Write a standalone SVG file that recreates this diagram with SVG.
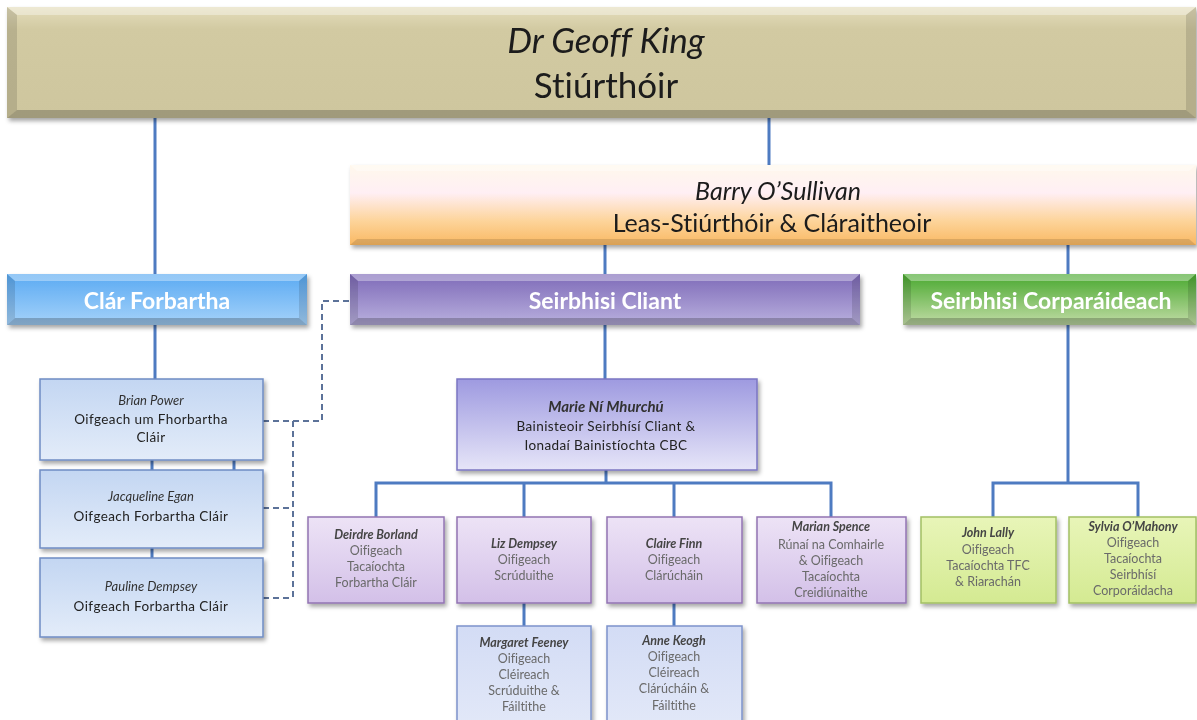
<svg xmlns="http://www.w3.org/2000/svg" width="1197" height="720" viewBox="0 0 1197 720">
<defs>
<filter id="sh" x="-5%" y="-10%" width="115%" height="130%"><feDropShadow dx="2" dy="3" stdDeviation="2" flood-color="#000" flood-opacity="0.35"/></filter>
<linearGradient id="gTop" x1="0" y1="0" x2="0" y2="1"><stop offset="0" stop-color="#E4DDBC"/><stop offset="0.2" stop-color="#D2CAA2"/><stop offset="1" stop-color="#CEC69E"/></linearGradient>
<linearGradient id="gBarry" x1="0" y1="0" x2="0" y2="1"><stop offset="0" stop-color="#FFF8EC"/><stop offset="0.35" stop-color="#FFEFF4"/><stop offset="0.7" stop-color="#FDD49A"/><stop offset="1" stop-color="#F9B862"/></linearGradient>
<linearGradient id="gClar" x1="0" y1="0" x2="0" y2="1"><stop offset="0" stop-color="#5AAAF2"/><stop offset="1" stop-color="#A5D2FA"/></linearGradient>
<linearGradient id="gCliant" x1="0" y1="0" x2="0" y2="1"><stop offset="0" stop-color="#7E6AB8"/><stop offset="1" stop-color="#B9B0DE"/></linearGradient>
<linearGradient id="gCorp" x1="0" y1="0" x2="0" y2="1"><stop offset="0" stop-color="#48A82E"/><stop offset="1" stop-color="#C2DCA6"/></linearGradient>
<linearGradient id="gBlue" x1="0" y1="0" x2="0" y2="1"><stop offset="0" stop-color="#C3D6F2"/><stop offset="1" stop-color="#E3ECF9"/></linearGradient>
<linearGradient id="gMarie" x1="0" y1="0" x2="0" y2="1"><stop offset="0" stop-color="#9E9AE0"/><stop offset="1" stop-color="#E6E5F8"/></linearGradient>
<linearGradient id="gPurp" x1="0" y1="0" x2="0" y2="1"><stop offset="0" stop-color="#EDE3F6"/><stop offset="1" stop-color="#D3C0E8"/></linearGradient>
<linearGradient id="gGreen" x1="0" y1="0" x2="0" y2="1"><stop offset="0" stop-color="#E8F5B8"/><stop offset="1" stop-color="#D4EA92"/></linearGradient>
<linearGradient id="gLb" x1="0" y1="0" x2="0" y2="1"><stop offset="0" stop-color="#D3DCF5"/><stop offset="1" stop-color="#E2E8F8"/></linearGradient>
</defs>
<style>
text{font-family:Lato,"Liberation Sans",sans-serif;text-anchor:middle;font-variant-ligatures:none}
.h{font-size:35px;fill:#1a1a1a}
.b{font-size:25px;fill:#1a1a1a}
.hd{font-size:23px;font-weight:bold;fill:#fff}
.n{font-size:12.5px;font-style:italic;font-weight:bold;fill:#444}
.r{font-size:12.5px;fill:#6a6a6a}
.nb{font-size:13px;font-style:italic;fill:#333}
.rb{font-size:13.5px;fill:#222;letter-spacing:0.4px}
.conn{fill:none;stroke:#4E7BC1;stroke-width:3}
.dash{fill:none;stroke:#5C7299;stroke-width:2;stroke-dasharray:6 4}
.hi{fill:#fff;opacity:0.35}
.dk{fill:#000;opacity:0.12}
.dk2{fill:#000;opacity:0.22}
</style>
<g id="connectors">
<path class="conn" d="M155,118V274M155,325V379M152,460V470M234,460V470M152,548V558M769,118V165M605,245V274M1068,245V274M605,325V379M606,470V483M376,517V483H831V517M524,483V517M674,483V517M524,603V626M674,603V626M1068,325V483M993,517V483H1138V517"/>
<path class="dash" d="M263,421H322V301H350M263,508H293M263,598H293M293,421V598"/>
</g>
<g id="stiurthoir" filter="url(#sh)">
<rect x="7" y="7" width="1189" height="111" fill="url(#gTop)"/>
<polygon class="hi" points="7,7 1196,7 1186,15 17,15"/>
<polygon class="dk" points="7,7 17,15 17,110 7,118"/>
<polygon class="dk" points="1196,7 1186,15 1186,110 1196,118"/>
<polygon class="dk2" points="7,118 17,110 1186,110 1196,118"/>
<text class="h" x="606" y="53" font-style="italic">Dr Geoff King</text>
<text class="h" x="606" y="98">Stiúrthóir</text>
</g>
<g id="barry" filter="url(#sh)">
<rect x="350" y="165" width="846" height="80" fill="url(#gBarry)"/>
<polygon class="hi" points="350,165 1196,165 1189,171 357,171"/>
<polygon class="dk" points="350,245 357,239 1189,239 1196,245"/>
<text class="b" x="778" y="200" font-style="italic">Barry O’Sullivan</text>
<text class="b" x="772" y="232">Leas-Stiúrthóir &amp; Cláraitheoir</text>
</g>
<g id="clar-forbartha" filter="url(#sh)">
<rect x="7" y="274" width="300" height="51" fill="url(#gClar)"/>
<polygon class="hi" points="7,274 307,274 299,281 15,281"/>
<polygon class="dk" points="7,274 15,281 15,318 7,325"/>
<polygon class="dk" points="307,274 299,281 299,318 307,325"/>
<polygon class="dk2" points="7,325 15,318 299,318 307,325"/>
<text class="hd" x="157" y="309">Clár Forbartha</text>
</g>
<g id="seirbhisi-cliant" filter="url(#sh)">
<rect x="350" y="274" width="510" height="51" fill="url(#gCliant)"/>
<polygon class="hi" points="350,274 860,274 852,281 358,281"/>
<polygon class="dk" points="350,274 358,281 358,318 350,325"/>
<polygon class="dk" points="860,274 852,281 852,318 860,325"/>
<polygon class="dk2" points="350,325 358,318 852,318 860,325"/>
<text class="hd" x="605" y="309">Seirbhisi Cliant</text>
</g>
<g id="seirbhisi-corparaideach" filter="url(#sh)">
<rect x="903" y="274" width="293" height="51" fill="url(#gCorp)"/>
<polygon class="hi" points="903,274 1196,274 1188,281 911,281"/>
<polygon class="dk" points="903,274 911,281 911,318 903,325"/>
<polygon class="dk" points="1196,274 1188,281 1188,318 1196,325"/>
<polygon class="dk2" points="903,325 911,318 1188,318 1196,325"/>
<text class="hd" x="1051" y="309">Seirbhisi Corparáideach</text>
</g>
<g id="brian" filter="url(#sh)">
<rect x="40" y="379" width="223" height="81" fill="url(#gBlue)" stroke="#6F8CC3" stroke-width="1.5"/>
<text class="nb" x="151" y="405">Brian Power</text>
<text class="rb" x="151" y="424">Oifgeach um Fhorbartha</text>
<text class="rb" x="151" y="442">Cláir</text>
</g>
<g id="jacqueline" filter="url(#sh)">
<rect x="40" y="470" width="223" height="78" fill="url(#gBlue)" stroke="#6F8CC3" stroke-width="1.5"/>
<text class="nb" x="151" y="501">Jacqueline Egan</text>
<text class="rb" x="151" y="521">Oifgeach Forbartha Cláir</text>
</g>
<g id="pauline" filter="url(#sh)">
<rect x="40" y="558" width="223" height="79" fill="url(#gBlue)" stroke="#6F8CC3" stroke-width="1.5"/>
<text class="nb" x="151" y="591">Pauline Dempsey</text>
<text class="rb" x="151" y="611">Oifgeach Forbartha Cláir</text>
</g>
<g id="marie" filter="url(#sh)">
<rect x="457" y="379" width="300" height="91" fill="url(#gMarie)" stroke="#7B76C2" stroke-width="1.5"/>
<text x="606" y="412" style="font-size:15px;font-style:italic;font-weight:bold;fill:#333">Marie Ní Mhurchú</text>
<text class="rb" x="606" y="431">Bainisteoir Seirbhísí Cliant &amp;</text>
<text class="rb" x="606" y="450">Ionadaí Bainistíochta CBC</text>
</g>
<g id="deirdre" filter="url(#sh)">
<rect x="308" y="517" width="136" height="86" fill="url(#gPurp)" stroke="#9274B3" stroke-width="1.5"/>
<text class="n" x="376" y="539">Deirdre Borland</text>
<text class="r" x="376" y="555">Oifigeach</text>
<text class="r" x="376" y="571">Tacaíochta</text>
<text class="r" x="376" y="587">Forbartha Cláir</text>
</g>
<g id="liz" filter="url(#sh)">
<rect x="457" y="517" width="134" height="86" fill="url(#gPurp)" stroke="#9274B3" stroke-width="1.5"/>
<text class="n" x="524" y="548">Liz Dempsey</text>
<text class="r" x="524" y="564">Oifigeach</text>
<text class="r" x="524" y="580">Scrúduithe</text>
</g>
<g id="claire" filter="url(#sh)">
<rect x="607" y="517" width="135" height="86" fill="url(#gPurp)" stroke="#9274B3" stroke-width="1.5"/>
<text class="n" x="674" y="548">Claire Finn</text>
<text class="r" x="674" y="564">Oifigeach</text>
<text class="r" x="674" y="580">Clárúcháin</text>
</g>
<g id="marian" filter="url(#sh)">
<rect x="757" y="517" width="149" height="86" fill="url(#gPurp)" stroke="#9274B3" stroke-width="1.5"/>
<text class="n" x="831" y="531">Marian Spence</text>
<text class="r" x="831" y="549">Rúnaí na Comhairle</text>
<text class="r" x="831" y="565">&amp; Oifigeach</text>
<text class="r" x="831" y="581">Tacaíochta</text>
<text class="r" x="831" y="597">Creidiúnaithe</text>
</g>
<g id="john" filter="url(#sh)">
<rect x="921" y="517" width="135" height="86" fill="url(#gGreen)" stroke="#A3C064" stroke-width="1.5"/>
<text class="n" x="988" y="537">John Lally</text>
<text class="r" x="988" y="554">Oifigeach</text>
<text class="r" x="988" y="570">Tacaíochta  TFC</text>
<text class="r" x="988" y="586">&amp; Riarachán</text>
</g>
<g id="sylvia" filter="url(#sh)">
<rect x="1069" y="517" width="127" height="86" fill="url(#gGreen)" stroke="#A3C064" stroke-width="1.5"/>
<text class="n" x="1133" y="531">Sylvia O’Mahony</text>
<text class="r" x="1133" y="547">Oifigeach</text>
<text class="r" x="1133" y="563">Tacaíochta</text>
<text class="r" x="1133" y="579">Seirbhísí</text>
<text class="r" x="1133" y="595">Corporáidacha</text>
</g>
<g id="margaret" filter="url(#sh)">
<rect x="457" y="626" width="134" height="100" fill="url(#gLb)" stroke="#7D93CB" stroke-width="1.5"/>
<text class="n" x="524" y="647">Margaret Feeney</text>
<text class="r" x="524" y="663">Oifigeach</text>
<text class="r" x="524" y="679">Cléireach</text>
<text class="r" x="524" y="695">Scrúduithe &amp;</text>
<text class="r" x="524" y="711">Fáiltithe</text>
</g>
<g id="anne" filter="url(#sh)">
<rect x="607" y="626" width="135" height="100" fill="url(#gLb)" stroke="#7D93CB" stroke-width="1.5"/>
<text class="n" x="674" y="645">Anne Keogh</text>
<text class="r" x="674" y="661">Oifigeach</text>
<text class="r" x="674" y="677">Cléireach</text>
<text class="r" x="674" y="693">Clárúcháin &amp;</text>
<text class="r" x="674" y="710">Fáiltithe</text>
</g>
</svg>
